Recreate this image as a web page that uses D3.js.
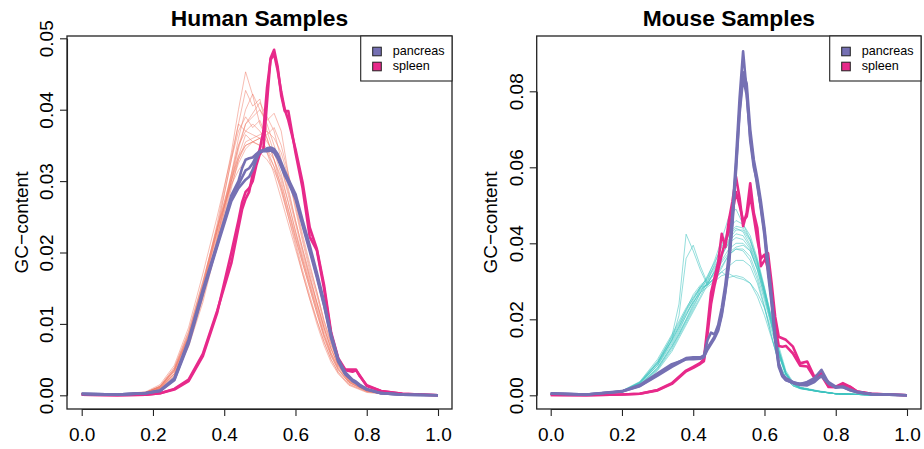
<!DOCTYPE html>
<html>
<head>
<meta charset="utf-8">
<script src="https://d3js.org/d3.v7.min.js"></script>
<style>
  body { margin: 0; background: #fff; }
  text { font-family: "Liberation Sans", Arial, sans-serif; fill: #000; }
</style>
</head>
<body>
<div id="graph"></div>
<script>

    // all densities below are in thousandths (0.001 units)
    var tissues = ["pancreas", "spleen"];
    var tissueColors = ["#7570B3", "#E7298A"];

    // ---- human ----
    var humanGrid = [0, 0.1, 0.18, 0.22, 0.26, 0.3, 0.34, 0.38, 0.42, 0.44, 0.45, 0.46, 0.47, 0.48, 0.49,
        0.5, 0.51, 0.52, 0.53, 0.54, 0.55, 0.56, 0.57, 0.58, 0.6, 0.62, 0.64, 0.66, 0.68, 0.7,
        0.72, 0.74, 0.76, 0.77, 0.78, 0.8, 0.84, 0.9, 1.0];
    var humanPancreas = [
        [0.2, 0.1, 0.3, 0.6, 2.2, 7.5, 14.5, 21, 28, 30, 31.8, 33, 33.2, 33.3, 33.8, 34.2, 34.3, 34.4, 34.6, 34.2,
         33.4, 32.2, 31, 30, 27.8, 24, 20.5, 16.8, 12.8, 8.2, 4.8, 3, 2, 1.7, 1.3, 0.8, 0.3, 0.1, 0],
        [0.2, 0.1, 0.3, 0.7, 2.4, 7.8, 14.8, 21.2, 27.6, 29.5, 30.5, 31.5, 31.8, 32.5, 33.5, 34, 34.3, 34.6, 34.7, 34.5,
         33.8, 32.6, 31.4, 30.3, 28.2, 24.5, 21, 17.2, 13.2, 8.6, 5.1, 3.2, 2.2, 1.9, 1.5, 0.9, 0.3, 0.1, 0],
        [0.2, 0.1, 0.3, 0.6, 2.1, 7.2, 14.2, 20.8, 27.2, 29, 29.6, 30.2, 30.6, 31.6, 33, 34.1, 34.2, 34.2, 34.3, 34,
         33.2, 32, 30.8, 29.8, 27.5, 23.8, 20.2, 16.5, 12.6, 8, 4.7, 2.9, 2.1, 1.8, 1.4, 0.8, 0.3, 0.1, 0]
    ];
    var humanSpleen = [
        [0.1, 0, 0.1, 0.3, 0.8, 2, 5.5, 11.5, 20, 24.5, 27, 28.5, 29, 30, 32.2, 33.8, 34.5, 41, 47.2, 48.4,
         46, 42, 39.8, 39.8, 34, 29, 22.2, 20.3, 15, 8.5, 5, 3.5, 3.3, 3.5, 2.8, 1.3, 0.6, 0.2, 0],
        [0.1, 0, 0.1, 0.3, 0.9, 2.2, 5.8, 11.8, 18.5, 23.5, 26, 27.5, 28.5, 31, 33, 34.5, 37, 43, 47, 47.8,
         45.5, 42.5, 40, 38.5, 34.5, 29.8, 23.5, 20.5, 15.5, 8.8, 5.2, 3.6, 3.6, 3.6, 2.7, 1.4, 0.6, 0.2, 0]
    ];
    var humanOtherGrid = [0, 0.1, 0.18, 0.22, 0.26, 0.3, 0.34, 0.38, 0.42, 0.44, 0.46, 0.48, 0.5, 0.52, 0.54,
        0.56, 0.58, 0.6, 0.62, 0.64, 0.66, 0.68, 0.7, 0.72, 0.75, 0.8, 0.85, 0.9, 1];
    var humanOther = [
        [0.2, 0.1, 0.4, 1.2, 3.6, 8.5, 15.5, 24, 34, 40, 45.3, 42, 38, 36, 33, 30, 26, 22, 18.5, 15, 11.5, 8, 5.5, 3.5, 1.8, 0.6, 0.2, 0.1, 0],
        [0.2, 0.1, 0.4, 1.1, 3.3, 8, 14.8, 23, 33, 38, 42.7, 40.5, 41.5, 37, 34, 31, 27, 23, 19.5, 16, 12.5, 9, 6, 4, 2, 0.7, 0.3, 0.1, 0],
        [0.2, 0.1, 0.3, 1, 3, 7.5, 14, 22, 31, 36, 40, 42.2, 40, 38, 35, 32, 28, 24, 20, 16.5, 13, 9.5, 6.5, 4.2, 2.1, 0.8, 0.3, 0.1, 0],
        [0.2, 0.1, 0.3, 0.9, 2.8, 7, 13.5, 21.5, 30, 34.5, 38, 39, 40, 38.5, 39.5, 37, 31, 26, 21.5, 17.5, 14, 10, 7, 4.5, 2.3, 0.8, 0.3, 0.1, 0],
        [0.2, 0.1, 0.4, 1.2, 3.5, 8.2, 15, 23, 31, 35, 37, 38, 37, 35.5, 34, 32, 28.5, 24.5, 20.5, 17, 13, 9.5, 6.5, 4.2, 2, 0.7, 0.3, 0.1, 0],
        [0.2, 0.1, 0.3, 0.9, 2.7, 6.8, 13, 21, 29, 33, 35.5, 36, 36.5, 37, 36, 34, 30.5, 26.5, 22, 18, 14.5, 10.5, 7.5, 4.8, 2.5, 0.9, 0.3, 0.1, 0],
        [0.2, 0.1, 0.4, 1.3, 3.8, 8.8, 15.8, 23.5, 30.5, 33.5, 35, 35.5, 35, 34, 32, 29.5, 26, 22.5, 19, 15.5, 12, 8.5, 5.8, 3.8, 1.9, 0.6, 0.2, 0.1, 0],
        [0.2, 0.1, 0.4, 1.2, 3.5, 8.3, 15.2, 23.5, 33, 37, 39, 37.5, 38.5, 36, 33, 29, 25, 21, 17, 13.5, 10.5, 7.5, 5, 3.2, 1.6, 0.5, 0.2, 0.1, 0],
        [0.2, 0.1, 0.4, 1.3, 3.9, 9, 16, 23.5, 29.5, 31.5, 33, 33.5, 34, 33, 31.5, 29, 25.5, 22, 18.5, 15, 11.5, 8.3, 5.5, 3.6, 1.8, 0.6, 0.2, 0.1, 0],
        [0.2, 0.1, 0.4, 1.2, 3.6, 8.5, 15.5, 23, 30, 33, 35, 35.5, 36, 34, 31, 27.5, 24, 20.5, 17, 13.5, 10, 7, 4.6, 3, 1.4, 0.4, 0.15, 0.05, 0],
        [0.2, 0.1, 0.3, 1, 3, 7.5, 14, 22, 30.5, 35, 38, 39.5, 41, 39, 37, 33, 29, 24.5, 20.5, 16.5, 13, 9.5, 6.5, 4.2, 2.1, 0.7, 0.3, 0.1, 0],
        [0.2, 0.1, 0.5, 1.5, 4.2, 9.5, 17, 25, 33.5, 38, 37, 36.5, 36, 34.5, 32, 28.5, 25, 21.5, 17.5, 14, 10.5, 7.5, 5, 3.2, 1.5, 0.5, 0.2, 0.1, 0],
        [0.2, 0.1, 0.4, 1.1, 3.3, 8, 14.8, 22.5, 30, 33.5, 36.5, 35.5, 35, 34.5, 33, 30.5, 27, 23, 19, 15.5, 12, 8.5, 5.8, 3.7, 1.8, 0.6, 0.2, 0.1, 0],
        [0.2, 0.1, 0.3, 1, 3, 7.3, 13.8, 21.5, 29.5, 32.5, 34.5, 35.5, 36, 36.5, 37.5, 35, 31, 27, 22.5, 18.5, 14.5, 10.5, 7.2, 4.6, 2.3, 0.8, 0.3, 0.1, 0]
    ];

    // ---- mouse ----
    var mouseGrid = [0, 0.1, 0.2, 0.25, 0.3, 0.34, 0.38, 0.4, 0.42, 0.43, 0.44, 0.45, 0.46, 0.47, 0.48,
        0.49, 0.5, 0.51, 0.52, 0.53, 0.54, 0.55, 0.56, 0.57, 0.58, 0.59, 0.6, 0.61, 0.62, 0.63,
        0.64, 0.65, 0.66, 0.68, 0.7, 0.72, 0.74, 0.76, 0.78, 0.8, 0.82, 0.84, 0.86, 0.9, 1];
    var mousePancreas = [
        [0.5, 0.2, 1, 2.5, 5.5, 7.8, 9.8, 10, 10, 10.5, 14.5, 16.5, 16, 18.5, 23, 29, 37, 48, 62, 78,
         90.5, 80, 67, 60, 56, 49, 42, 32, 24, 14.5, 7.5, 5, 4, 3.3, 3, 3.5, 4.5, 6.7, 3.2, 2, 2.2, 1.3, 0.8, 0.3, 0],
        [0.5, 0.2, 1, 2.4, 5.2, 7.5, 9.5, 9.8, 9.9, 10.2, 12.5, 14, 15.5, 17.5, 21.5, 27.5, 35, 46, 60, 75,
         85, 82, 70, 62, 57, 51, 44, 35, 26, 16, 8.5, 5.2, 4, 3.2, 2.7, 2.6, 3.5, 5.2, 3.5, 2.3, 2.1, 1.4, 0.8, 0.3, 0],
        [0.4, 0.2, 1.1, 2.7, 5.8, 8.2, 9.5, 9.5, 9.6, 10, 12, 13.5, 15, 17, 21, 27, 34, 45, 59, 74,
         83.5, 79, 68, 61, 55, 49.5, 43, 34, 25, 15, 8, 5.5, 4.5, 3.5, 3, 3.2, 4, 5, 3, 2.1, 2.3, 1.5, 0.9, 0.3, 0]
    ];
    var mouseSpleen = [
        [0.1, 0, 0.2, 0.4, 1.4, 3.2, 6.5, 7.5, 8.5, 9.5, 18, 27, 31, 35, 42.5, 39, 46, 51, 57.5, 52,
         44.5, 48, 55.8, 48, 44, 34, 35.5, 37.4, 29.5, 20.7, 15.4, 15, 14.6, 12.8, 8.4, 8.9, 4.9, 5.8, 2.3, 2.3, 3.2, 2.3, 1, 0.4, 0],
        [0.1, 0, 0.2, 0.4, 1.3, 3, 6.3, 7.2, 8.3, 9, 16, 24, 29, 33, 37, 40.5, 43, 48, 53.5, 50,
         46, 47, 52.5, 47, 41, 36, 37, 33, 26, 18.5, 13, 12.8, 13, 11, 7.8, 7.6, 4.6, 5.2, 2.2, 2.1, 2.8, 2.2, 1, 0.4, 0]
    ];
    var mouseOtherGrid = [0, 0.1, 0.2, 0.25, 0.3, 0.34, 0.36, 0.38, 0.4, 0.42, 0.44, 0.46, 0.48, 0.5, 0.52,
        0.54, 0.56, 0.58, 0.6, 0.62, 0.64, 0.66, 0.68, 0.7, 0.75, 0.8, 0.9, 1];
    var mouseOther = [
        [0.3, 0.2, 1.0, 3.3, 8.5, 15.5, 24, 42.4, 38, 33, 29, 31, 34, 37, 38.5, 38, 35.5, 30.5, 23.5, 15.5, 8.5, 4.5, 2.5, 1.8, 1, 0.4, 0.1, 0],
        [0.3, 0.2, 1.0, 3.0, 8, 14.5, 21, 36, 39.5, 34, 29.5, 30.5, 32.5, 34, 35.5, 35.5, 34, 29.5, 23, 15.5, 8.5, 4.5, 2.5, 1.7, 1, 0.4, 0.1, 0],
        [0.3, 0.2, 1.1, 3.5, 9, 15.5, 19, 22.5, 25.5, 28, 29, 31, 32.5, 31, 31.5, 31, 29.5, 26, 21, 15, 9, 4.5, 2.5, 1.8, 1, 0.4, 0.1, 0],
        [0.3, 0.2, 1.0, 3.2, 8.5, 14.5, 18, 21.5, 24.5, 27, 28.5, 30, 31.5, 32, 31, 30.5, 29.5, 27, 23, 17, 10.5, 5.5, 3, 2, 1.1, 0.4, 0.1, 0],
        [0.3, 0.2, 0.9, 2.6, 7, 12.5, 16, 19.5, 23, 27, 31, 35.5, 41, 47, 49, 45, 41, 35, 27, 19, 11, 5.5, 3, 2, 1.1, 0.4, 0.1, 0],
        [0.3, 0.2, 0.9, 2.5, 6.8, 12, 15.5, 19, 22.5, 26, 30, 34.5, 39.5, 44, 46, 45, 42, 36, 28.5, 20, 12, 6, 3.2, 2, 1.1, 0.4, 0.1, 0],
        [0.3, 0.2, 1.0, 2.8, 7.3, 13, 16.5, 20, 24, 28, 31.5, 35, 39, 42.5, 44.5, 44, 41, 35.5, 28, 20, 12, 6, 3.2, 2, 1.1, 0.4, 0.1, 0],
        [0.3, 0.2, 1.0, 3.0, 7.8, 13.5, 17, 21, 25, 28.5, 31, 34, 37.5, 41, 43.5, 43.5, 40.5, 35, 27.5, 19.5, 11.5, 5.8, 3, 1.9, 1, 0.4, 0.1, 0],
        [0.3, 0.2, 1.1, 3.3, 8.5, 14.5, 18, 22, 25.5, 28.5, 30, 32.5, 35.5, 38.5, 40, 40, 38, 33, 26, 18.5, 11, 5.5, 3, 1.9, 1, 0.4, 0.1, 0],
        [0.3, 0.2, 1.0, 3.1, 8, 14, 17.5, 21, 24.5, 27.5, 29.5, 32, 35, 37.5, 39, 39.5, 38, 33.5, 27, 19.5, 12, 6, 3.2, 2, 1.1, 0.4, 0.1, 0],
        [0.3, 0.2, 0.9, 2.7, 7.2, 12.8, 16, 19.8, 23.5, 27, 29.5, 32.5, 36.5, 40.5, 42.5, 42, 39, 34, 27, 19, 11.5, 5.8, 3.1, 2, 1.1, 0.4, 0.1, 0],
        [0.3, 0.2, 1.2, 3.6, 9.5, 16, 19.5, 23, 26, 28.5, 29, 30.5, 33.5, 37, 38.5, 38.5, 36.5, 31.5, 25, 18, 10.5, 5.2, 2.8, 1.8, 1, 0.4, 0.1, 0],
        [0.3, 0.2, 1.1, 3.4, 8.8, 15, 18.5, 22.5, 26.5, 29, 30.5, 33.5, 37, 40, 41.5, 41, 38.5, 33, 26, 18.5, 11, 5.5, 3, 1.9, 1, 0.4, 0.1, 0],
        [0.3, 0.2, 0.8, 2.4, 6.5, 11.5, 15, 18.5, 22, 25.5, 29, 33, 37.5, 42, 44, 43, 39.5, 34.5, 28, 20.5, 13, 6.5, 3.5, 2.2, 1.2, 0.5, 0.1, 0]
    ];

    var xTicks = [0, 0.2, 0.4, 0.6, 0.8, 1.0];
    var humanYTicks = [0, 0.01, 0.02, 0.03, 0.04, 0.05];
    var mouseYTicks = [0, 0.02, 0.04, 0.06, 0.08];

    var panels = [
        { title: "Human Samples", left: 67, right: 452, xr: [81.7, 438], yMax: 0.05, yTop: 38.3,
          yTicks: humanYTicks, grid: humanGrid, pancreas: humanPancreas, spleen: humanSpleen,
          otherGrid: humanOtherGrid, other: humanOther, otherColor: "#F07A66", otherOpacity: 0.5 },
        { title: "Mouse Samples", left: 536.7, right: 921, xr: [550.7, 907], yMax: 0.08, yTop: 91.3,
          yTicks: mouseYTicks, grid: mouseGrid, pancreas: mousePancreas, spleen: mouseSpleen,
          otherGrid: mouseOtherGrid, other: mouseOther, otherColor: "#3EC2C0", otherOpacity: 0.55 }
    ];

    var plotTop = 36, plotBottom = 409;

    var svg = d3.select("#graph")
        .append("svg")
        .attr("width", 924)
        .attr("height", 449);

    panels.forEach(function (p) {
        var g = svg.append("g");

        var x = d3.scaleLinear().domain([0, 1]).range(p.xr);
        var y = d3.scaleLinear().domain([0, p.yMax]).range([395.3, p.yTop]);

        function lineFor(grid) {
            return d3.line()
                .x(function (d, i) { return x(grid[i]); })
                .y(function (d) { return y(d / 1000); });
        }

        // other samples, thin and transparent
        g.append("g").selectAll("path")
            .data(p.other)
            .enter()
            .append("path")
            .attr("d", lineFor(p.otherGrid))
            .attr("fill", "none")
            .attr("stroke", p.otherColor)
            .attr("stroke-opacity", p.otherOpacity)
            .attr("stroke-width", 1);

        g.append("g").selectAll("path")
            .data(p.spleen)
            .enter()
            .append("path")
            .attr("d", lineFor(p.grid))
            .attr("fill", "none")
            .attr("stroke", tissueColors[1])
            .attr("stroke-width", 2.6)
            .attr("stroke-linejoin", "round");

        g.append("g").selectAll("path")
            .data(p.pancreas)
            .enter()
            .append("path")
            .attr("d", lineFor(p.grid))
            .attr("fill", "none")
            .attr("stroke", tissueColors[0])
            .attr("stroke-width", 2.6)
            .attr("stroke-linejoin", "round");

        // box
        g.append("rect")
            .attr("x", p.left)
            .attr("y", plotTop)
            .attr("width", p.right - p.left)
            .attr("height", plotBottom - plotTop)
            .attr("fill", "none")
            .attr("stroke", "#222")
            .attr("stroke-width", 1.3);

        // x axis
        var xa = g.append("g")
            .attr("transform", "translate(0," + plotBottom + ")")
            .call(d3.axisBottom(x).tickValues(xTicks).tickFormat(d3.format(".1f")).tickSize(7).tickSizeOuter(0));
        xa.selectAll("text")
            .attr("y", 31.5)
            .attr("dy", null)
            .style("font-size", "19px");

        // y axis, labels parallel to the axis
        var ya = g.append("g")
            .attr("transform", "translate(" + p.left + ",0)")
            .call(d3.axisLeft(y).tickValues(p.yTicks).tickFormat(d3.format(".2f")).tickSize(7).tickSizeOuter(0));
        ya.selectAll("text")
            .attr("x", null)
            .attr("dy", null)
            .attr("text-anchor", "middle")
            .attr("transform", "translate(-14,0) rotate(-90)")
            .style("font-size", "19px");

        [xa, ya].forEach(function (a) {
            a.attr("font-family", null).attr("font-size", null);
            a.selectAll("line, path").attr("stroke", "#222").attr("stroke-width", 1.1);
        });

        // axis title and panel title
        g.append("text")
            .attr("transform", "translate(" + (p.left - 39.5) + "," + ((plotTop + plotBottom) / 2) + ") rotate(-90)")
            .attr("text-anchor", "middle")
            .style("font-size", "19px")
            .text("GC\u2212content");

        g.append("text")
            .attr("x", (p.left + p.right) / 2)
            .attr("y", 26)
            .attr("text-anchor", "middle")
            .style("font-size", "22.8px")
            .style("font-weight", "bold")
            .text(p.title);

        // legend
        var lx = p.right - 91.3;
        g.append("rect")
            .attr("x", lx)
            .attr("y", plotTop)
            .attr("width", 91.3)
            .attr("height", 45)
            .attr("fill", "#fff")
            .attr("stroke", "#222")
            .attr("stroke-width", 1.1);

        var items = g.append("g").selectAll("g")
            .data(tissues)
            .enter()
            .append("g")
            .attr("transform", function (d, i) { return "translate(" + lx + "," + (51.5 + i * 15) + ")"; });
        items.append("rect")
            .attr("x", 12)
            .attr("y", -4.3)
            .attr("width", 8.6)
            .attr("height", 8.6)
            .attr("fill", function (d, i) { return tissueColors[i]; })
            .attr("stroke", "#222")
            .attr("stroke-width", 1);
        items.append("text")
            .attr("x", 32)
            .attr("y", 3.8)
            .style("font-size", "12.6px")
            .text(function (d) { return d; });
    });
</script>
</body>
</html>
